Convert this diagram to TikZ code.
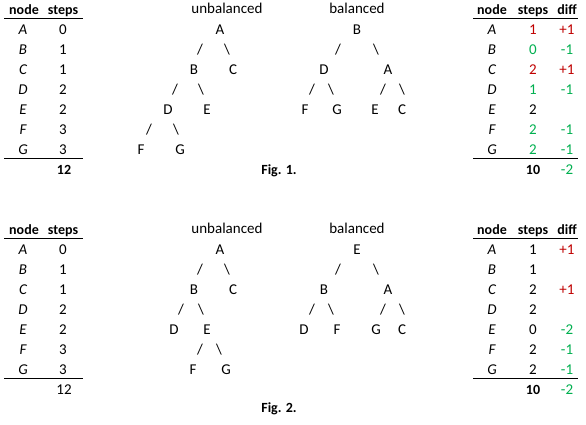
\documentclass[tikz,border=0pt]{standalone}
\usepackage{fontspec}
\setmainfont{Carlito}
\definecolor{rd}{RGB}{192,0,0}
\definecolor{gn}{RGB}{0,176,80}
\begin{document}
\begin{tikzpicture}[x=1pt,y=-1pt,
  every node/.style={inner sep=0pt, text height=9pt, text depth=0pt, font=\fontsize{15}{17}\selectfont},
  rule/.style={line width=1pt},
  hd/.style={font=\fontsize{14}{17}\selectfont\bfseries},
  lab/.style={font=\fontsize{15}{17}\selectfont\itshape}]
\useasboundingbox[fill=white] (0,0) rectangle (586,424);

% ---------- Fig 1 left table ----------
\node[hd] (aN) at (24,10) {node};
\node[hd] (aS) at (63,10) {steps};
\draw[rule] (4,18) -- (83,18);
\foreach \l/\s [count=\i] in {A/0,B/1,C/1,D/2,E/2,F/3,G/3}
  { \node[lab] (aL\l) at (23,10+20*\i) {\l};
    \node (aV\l) at (63,10+20*\i) {\s}; }
\draw[rule] (4,158) -- (83,158);
\node[hd] (aT) at (64,170) {12};

% ---------- Fig 1 right table ----------
\node[hd] (bN) at (492,10) {node};
\node[hd] (bS) at (533,10) {steps};
\node[hd] (bD) at (567,10) {diff};
\draw[rule] (473,18) -- (578,18);
\foreach \l/\s/\sc/\d/\dc [count=\i] in {A/1/rd/+1/rd,B/0/gn/-1/gn,C/2/rd/+1/rd,D/1/gn/-1/gn,E/2/black//black,F/2/gn/-1/gn,G/2/gn/-1/gn}
  { \node[lab] (bL\l) at (492,10+20*\i) {\l};
    \node[text=\sc] (bV\l) at (533,10+20*\i) {\s};
    \node[text=\dc] (bW\l) at (567,10+20*\i) {\d}; }
\draw[rule] (473,158) -- (578,158);
\node[hd] (bT) at (533,170) {10};
\node[text=gn] (bTd) at (567,170) {-2};

% ---------- Fig 1 trees ----------
\node (u1) at (227,9) {unbalanced};
\node (b1) at (357,9) {balanced};
% unbalanced
\node (uA) at (220,30) {A};
\node (us1) at (200,50) {/}; \node (ub1) at (227,50) {\textbackslash};
\node (uB) at (194,70) {B}; \node (uC) at (233,70) {C};
\node (us2) at (175,90) {/}; \node (ub2) at (201,90) {\textbackslash};
\node (uD) at (168,110) {D}; \node (uE) at (207,110) {E};
\node (us3) at (149,130) {/}; \node (ub3) at (176,130) {\textbackslash};
\node (uF) at (141,150) {F}; \node (uG) at (180,150) {G};
% balanced
\node (vB) at (357,30) {B};
\node (vs1) at (338,50) {/}; \node (vb1) at (376,50) {\textbackslash};
\node (vD) at (324,70) {D}; \node (vA) at (388,70) {A};
\node (vs2) at (312,90) {/}; \node (vb2) at (331,90) {\textbackslash};
\node (vs3) at (383,90) {/}; \node (vb3) at (402,90) {\textbackslash};
\node (vF) at (305,110) {F}; \node (vG) at (337,110) {G};
\node (vE) at (375,110) {E}; \node (vC) at (402,110) {C};
\node[hd] (f1) at (279,170) {Fig. 1.};

% ---------- Fig 2 left table ----------
\node[hd] (cN) at (24,230) {node};
\node[hd] (cS) at (63,230) {steps};
\draw[rule] (4,238) -- (83,238);
\foreach \l/\s [count=\i] in {A/0,B/1,C/1,D/2,E/2,F/3,G/3}
  { \node[lab] (cL\l) at (23,230+20*\i) {\l};
    \node (cV\l) at (63,230+20*\i) {\s}; }
\draw[rule] (4,378) -- (83,378);
\node (cT) at (64,390) {12};

% ---------- Fig 2 right table ----------
\node[hd] (dN) at (492,230) {node};
\node[hd] (dS) at (533,230) {steps};
\node[hd] (dD) at (567,230) {diff};
\draw[rule] (473,238) -- (578,238);
\foreach \l/\s/\d/\dc [count=\i] in {A/1/+1/rd,B/1//black,C/2/+1/rd,D/2//black,E/0/-2/gn,F/2/-1/gn,G/2/-1/gn}
  { \node[lab] (dL\l) at (492,230+20*\i) {\l};
    \node (dV\l) at (533,230+20*\i) {\s};
    \node[text=\dc] (dW\l) at (567,230+20*\i) {\d}; }
\draw[rule] (473,378) -- (578,378);
\node[hd] (dT) at (533,390) {10};
\node[text=gn] (dTd) at (567,390) {-2};

% ---------- Fig 2 trees ----------
\node (u2) at (227,229) {unbalanced};
\node (b2) at (357,229) {balanced};
% unbalanced
\node (wA) at (220,250) {A};
\node (ws1) at (200,270) {/}; \node (wb1) at (227,270) {\textbackslash};
\node (wB) at (194,290) {B}; \node (wC) at (233,290) {C};
\node (ws2) at (181,310) {/}; \node (wb2) at (201,310) {\textbackslash};
\node (wD) at (174,330) {D}; \node (wE) at (207,330) {E};
\node (ws3) at (200,350) {/}; \node (wb3) at (219,350) {\textbackslash};
\node (wF) at (193,370) {F}; \node (wG) at (226,370) {G};
% balanced
\node (xE) at (357,250) {E};
\node (xs1) at (338,270) {/}; \node (xb1) at (376,270) {\textbackslash};
\node (xB) at (324,290) {B}; \node (xA) at (388,290) {A};
\node (xs2) at (312,310) {/}; \node (xb2) at (331,310) {\textbackslash};
\node (xs3) at (383,310) {/}; \node (xb3) at (402,310) {\textbackslash};
\node (xD) at (304,330) {D}; \node (xF) at (337,330) {F};
\node (xG) at (376,330) {G}; \node (xC) at (402,330) {C};
\node[hd] (f2) at (279,408) {Fig. 2.};
\end{tikzpicture}
\end{document}
